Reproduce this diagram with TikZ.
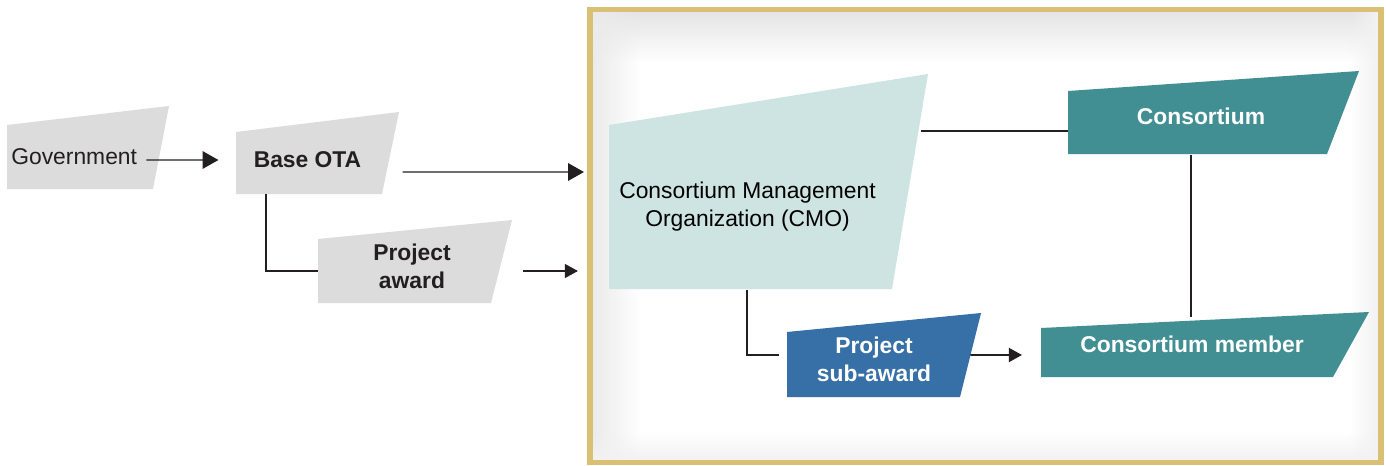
\documentclass[tikz,border=0pt]{standalone}
\usepackage{fontspec}
\setmainfont{Liberation Sans}
\usetikzlibrary{arrows.meta,fadings}
\definecolor{ink}{HTML}{231F20}
\definecolor{boxgray}{HTML}{DCDCDC}
\definecolor{cmofill}{HTML}{CEE4E2}
\definecolor{teal}{HTML}{428F93}
\definecolor{subblue}{HTML}{3670A7}
\definecolor{gold}{HTML}{D9C074}
\begin{document}
\begin{tikzpicture}[x=0.02cm, y=-0.02cm,
  font=\fontsize{13}{16}\selectfont,
  lbl/.style={inner sep=0pt, align=center, text=ink},
  hd/.style={lbl, font=\fontsize{13}{16}\selectfont\bfseries},
  wt/.style={hd, text=white},
  link/.style={draw=ink, line width=0.7pt},
  arr/.style={link, -{Triangle[length=9pt, width=10pt]}},
  sarr/.style={link, -{Triangle[length=7.5pt, width=8pt]}}]
  \useasboundingbox (0,0) rectangle (1386,466);
  \fill[white] (0,0) rectangle (1386,466);
  \fill[black!10, path fading=south] (593,12) rectangle (1378,62);
  \fill[black!8, path fading=east] (593,12) rectangle (640,460);
  \fill[black!5, path fading=west] (1350,12) rectangle (1378,460);
  \fill[black!5, path fading=north] (593,432) rectangle (1378,460);
  \draw[gold, line width=3.4pt] (590,9.5) rectangle (1381,462.5);
  \fill[boxgray] (7,189) -- (7,125) -- (169,106) -- (153,189) -- cycle;
  \fill[boxgray] (236,194) -- (236,132) -- (399,112) -- (382,194) -- cycle;
  \fill[boxgray] (318,303) -- (318,239) -- (512,220) -- (491,303) -- cycle;
  \fill[cmofill] (609,289) -- (609,125) -- (928,74) -- (892,289) -- cycle;
  \fill[teal] (1068,154) -- (1068,91) -- (1359,71) -- (1327,154) -- cycle;
  \fill[teal] (1041,377) -- (1041,328) -- (1369,312) -- (1333,377) -- cycle;
  \fill[subblue] (787,397) -- (787,332) -- (981,313) -- (960,397) -- cycle;
  \node[lbl, anchor=west] (gov) at (11,157) {Government};
  \node[hd] (ota) at (307.5,159.5) {Base OTA};
  \node[hd] (award) at (412,266.5) {Project\\award};
  \node[lbl, text=black] (cmo) at (747.5,206.5) {Consortium Management\\Organization (CMO)};
  \node[wt] (cons) at (1201,116) {Consortium};
  \node[wt] (member) at (1192,344.5) {Consortium member};
  \node[wt] (sub) at (874,359) {Project\\sub-award};
  \draw[arr] ([shift={(9,3)}]gov.east) -- ([shift={(-35,0.5)}]ota.west);
  \draw[arr] ([shift={(41,12.5)}]ota.east) -- ([shift={(-35,-34.5)}]cmo.west);
  \draw[link] ([shift={(-41.5,26.3)}]ota.south) |- ([shift={(-55,4.5)}]award.west);
  \draw[sarr] ([shift={(72,4.5)}]award.east) -- ([shift={(-41,64.5)}]cmo.west);
  \draw[link] ([shift={(45,-75.5)}]cmo.east) -- ([shift={(-69,15)}]cons.west);
  \draw[link] ([shift={(-10,30)}]cons.south) -- ([shift={(-1,-19)}]member.north);
  \draw[link] ([shift={(-0.5,58)}]cmo.south) |- ([shift={(-38,-4)}]sub.west);
  \draw[sarr, line width=1.1pt] ([shift={(39,-4)}]sub.east) -- ([shift={(-58,10.5)}]member.west);
\end{tikzpicture}
\end{document}
